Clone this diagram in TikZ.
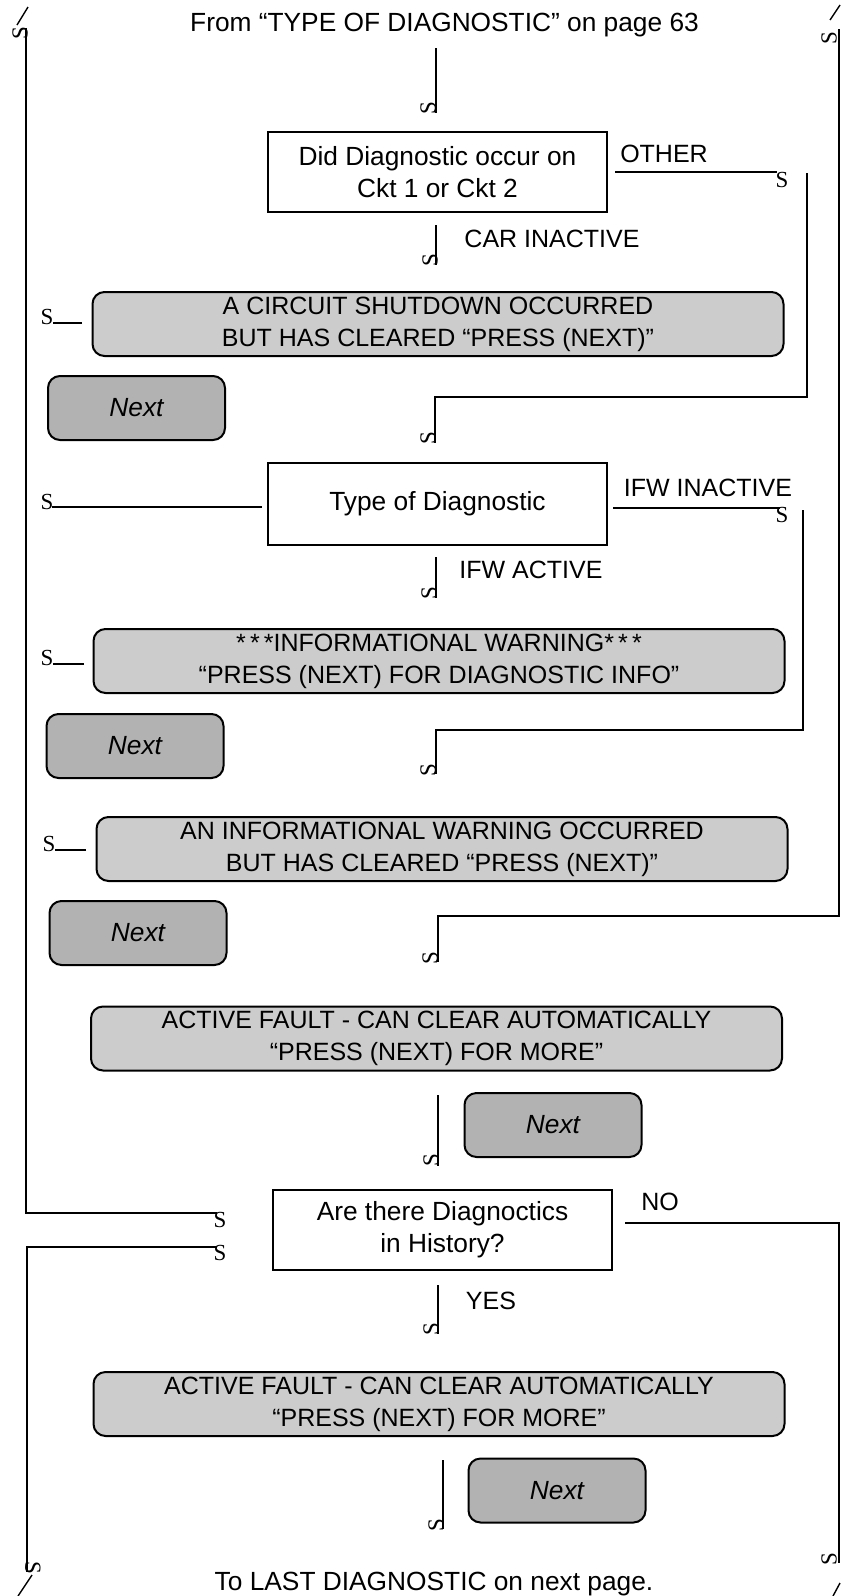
\documentclass[tikz,border=0pt]{standalone}
\usepackage{fontspec}
\setmainfont{Liberation Sans}
\newfontfamily\tipfont{Liberation Serif}
\definecolor{msggrey}{RGB}{204,204,204}
\definecolor{nextgrey}{RGB}{178,178,178}
\newcommand\mixedsize{\fontsize{26.3}{32}\selectfont}
\tikzset{
  wire/.style={line width=2.4pt},
  slash/.style={line width=1.4pt},
  decision/.style={draw, line width=2pt, minimum width=339pt, minimum height=80pt, align=center, font=\mixedsize},
  msgbox/.style={draw, line width=2pt, fill=msggrey, rounded corners=12pt,
    minimum width=691pt, minimum height=64pt, align=center},
  nextbox/.style={draw, line width=2pt, fill=nextgrey, rounded corners=12pt,
    minimum width=177pt, minimum height=64pt, font=\mixedsize\itshape},
  tipS/.style={font=\tipfont\fontsize{23}{23}\selectfont, inner sep=0pt},
  tipdown/.style={tipS, rotate=90},
  tipup/.style={tipS, rotate=-90}
}
\begin{document}
\begin{tikzpicture}[x=1pt,y=-1pt,font=\fontsize{25}{32}\selectfont]
\useasboundingbox (0,0) rectangle (841,1596);

% boxes
\node[decision] (ckt) at (437.5,172) {Did Diagnostic occur on\\Ckt 1 or Ckt 2};
\node[decision, minimum height=82pt] (type) at (437.5,504) {Type of Diagnostic};
\node[decision] (hist) at (442.5,1229.5) {Are there Diagnoctics\\in History?};
\node[msgbox] (shut) at (438,324) {A CIRCUIT SHUTDOWN OCCURRED\\BUT HAS CLEARED “PRESS (NEXT)”};
\node[msgbox] (ifw) at (439,661) {*\,*\,*INFORMATIONAL WARNING*\,*\,*\\“PRESS (NEXT) FOR DIAGNOSTIC INFO”};
\node[msgbox] (ifwclr) at (442,849) {AN INFORMATIONAL WARNING OCCURRED\\BUT HAS CLEARED “PRESS (NEXT)”};
\node[msgbox] (fault) at (436.5,1038.5) {ACTIVE FAULT - CAN CLEAR AUTOMATICALLY\\“PRESS (NEXT) FOR MORE”};
\node[msgbox] (fault2) at (439,1404) {ACTIVE FAULT - CAN CLEAR AUTOMATICALLY\\“PRESS (NEXT) FOR MORE”};
\node[nextbox] (next1) at (136.5,408) {Next};
\node[nextbox] (next2) at (135,746) {Next};
\node[nextbox] (next3) at (138,933) {Next};
\node[nextbox] (next4) at (553,1125) {Next};
\node[nextbox] (next5) at (557,1490.5) {Next};

% page texts and labels
\node[font=\mixedsize] (from) at (444.5,25) {From “TYPE OF DIAGNOSTIC” on page 63};
\node[font=\mixedsize] (to) at (434,1584) {To LAST DIAGNOSTIC on next page.};
\node (other) at (664,154) {OTHER};
\node (carin) at (552,239) {CAR INACTIVE};
\node (ifwin) at (708,488) {IFW INACTIVE};
\node (ifwact) at (531,570) {IFW ACTIVE};
\node (no) at (660,1202) {NO};
\node (yes) at (491,1301) {YES};

% free ends
\coordinate (w1a) at (436,48);    \coordinate (w1b) at (436,113);
\coordinate (w2a) at (615,172);   \coordinate (w2b) at (777,172);
\coordinate (w3a) at (807,173);   \coordinate (w3b) at (435,397);  \coordinate (w3c) at (435,443);
\coordinate (w4a) at (436,225);   \coordinate (w4b) at (436,265);
\coordinate (w5a) at (82,323);    \coordinate (w5b) at (53,323);
\coordinate (w6a) at (262,507);   \coordinate (w6b) at (52,507);
\coordinate (w7a) at (613,508);   \coordinate (w7b) at (780,508);
\coordinate (w8a) at (803,510);   \coordinate (w8b) at (436,730);  \coordinate (w8c) at (436,774);
\coordinate (w9a) at (436,557);   \coordinate (w9b) at (436,598);
\coordinate (w10a) at (84,664);   \coordinate (w10b) at (53,664);
\coordinate (w11a) at (86,850);   \coordinate (w11b) at (55,850);
\coordinate (w12a) at (839,29);   \coordinate (w12b) at (438,916); \coordinate (w12c) at (438,962);
\coordinate (w13a) at (438,1095); \coordinate (w13b) at (438,1166);
\coordinate (w14a) at (26,28);    \coordinate (w14b) at (217,1213);
\coordinate (w15a) at (217,1247); \coordinate (w15b) at (27,1572);
\coordinate (w16a) at (625,1223); \coordinate (w16b) at (839,1563);
\coordinate (w17a) at (438,1285); \coordinate (w17b) at (438,1334);
\coordinate (w18a) at (443,1460); \coordinate (w18b) at (443,1529);

% connectors
\draw[wire] (w1a) -- (w1b);
\draw[wire] (w2a) -- (w2b);
\draw[wire] (w3a) |- (w3b) -- (w3c);
\draw[wire] (w4a) -- (w4b);
\draw[wire] (w5a) -- (w5b);
\draw[wire] (w6a) -- (w6b);
\draw[wire] (w7a) -- (w7b);
\draw[wire] (w8a) |- (w8b) -- (w8c);
\draw[wire] (w9a) -- (w9b);
\draw[wire] (w10a) -- (w10b);
\draw[wire] (w11a) -- (w11b);
\draw[wire] (w12a) |- (w12b) -- (w12c);
\draw[wire] (w13a) -- (w13b);
\draw[wire] (w14a) |- (w14b);
\draw[wire] (w15a) -| (w15b);
\draw[wire] (w16a) -| (w16b);
\draw[wire] (w17a) -- (w17b);
\draw[wire] (w18a) -- (w18b);

% arrow heads as printed
\node[tipdown] (s1) at (428,108) {S};
\node[tipS] (s2) at (782,180) {S};
\node[tipdown] (s3) at (428,438) {S};
\node[tipdown] (s4) at (430,260) {S};
\node[tipS] (s5) at (47,317) {S};
\node[tipS] (s6) at (47,502) {S};
\node[tipS] (s7) at (782,515) {S};
\node[tipdown] (s8) at (428,770) {S};
\node[tipdown] (s9) at (429,593) {S};
\node[tipS] (s10) at (47,658) {S};
\node[tipS] (s11) at (49,844) {S};
\node[tipdown] (s12) at (430,958) {S};
\node[tipdown] (s13) at (431,1160) {S};
\node[tipS] (s14) at (220,1220) {S};
\node[tipS] (s15) at (220,1253) {S};
\node[tipdown] (s16) at (431,1329) {S};
\node[tipdown] (s17) at (436,1525) {S};
\node[tipdown] (s18) at (20,33) {S};
\node[tipdown] (s19) at (829,38) {S};
\node[tipup] (s20) at (33,1568) {S};
\node[tipdown] (s21) at (829,1559) {S};

% off-page marks
\coordinate (m1a) at (28,7);     \coordinate (m1b) at (17,25);
\coordinate (m2a) at (840,5);    \coordinate (m2b) at (830,20);
\coordinate (m3a) at (32,1575);  \coordinate (m3b) at (18,1596);
\coordinate (m4a) at (840,1583); \coordinate (m4b) at (833,1596);
\draw[slash] (m1a) -- (m1b);
\draw[slash] (m2a) -- (m2b);
\draw[slash] (m3a) -- (m3b);
\draw[slash] (m4a) -- (m4b);
\end{tikzpicture}
\end{document}
